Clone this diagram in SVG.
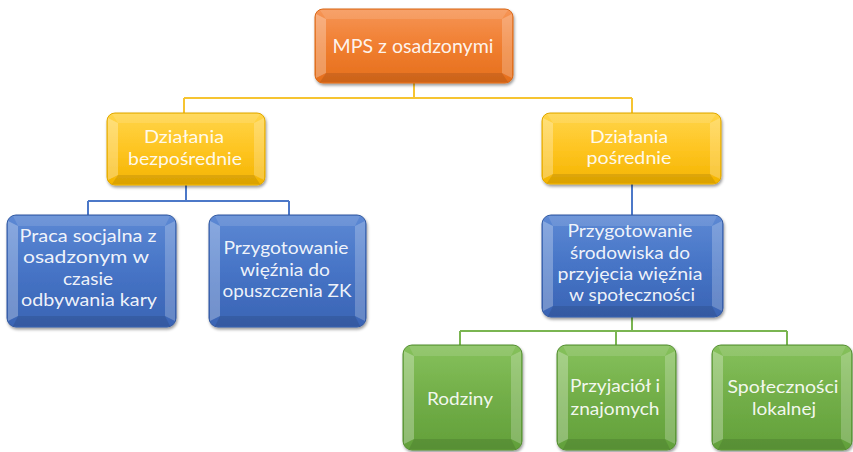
<svg xmlns="http://www.w3.org/2000/svg" width="853" height="452" viewBox="0 0 853 452">
<defs>
  <linearGradient id="gOr" x1="0" y1="0" x2="0" y2="1">
    <stop offset="0" stop-color="#F69556"/>
    <stop offset="0.5" stop-color="#F07E30"/>
    <stop offset="1" stop-color="#E56F1C"/>
  </linearGradient>
  <linearGradient id="gYe" x1="0" y1="0" x2="0" y2="1">
    <stop offset="0" stop-color="#FFD54A"/>
    <stop offset="0.5" stop-color="#FEC522"/>
    <stop offset="1" stop-color="#F4B400"/>
  </linearGradient>
  <linearGradient id="gBl" x1="0" y1="0" x2="0" y2="1">
    <stop offset="0" stop-color="#5D89D4"/>
    <stop offset="0.5" stop-color="#4674C6"/>
    <stop offset="1" stop-color="#3A64B4"/>
  </linearGradient>
  <linearGradient id="gGr" x1="0" y1="0" x2="0" y2="1">
    <stop offset="0" stop-color="#86C15C"/>
    <stop offset="0.5" stop-color="#72AE48"/>
    <stop offset="1" stop-color="#62A03A"/>
  </linearGradient>
  <filter id="sh" x="-10%" y="-10%" width="125%" height="130%">
    <feGaussianBlur in="SourceAlpha" stdDeviation="1.6"/>
    <feOffset dx="1" dy="2" result="o"/>
    <feComponentTransfer><feFuncA type="linear" slope="0.4"/></feComponentTransfer>
    <feMerge><feMergeNode/><feMergeNode in="SourceGraphic"/></feMerge>
  </filter>
</defs>
<style>
  .box{filter:url(#sh);stroke-width:1}
  .or{fill:url(#gOr);stroke:#D96A1A}
  .ye{fill:url(#gYe);stroke:#E0A800}
  .bl{fill:url(#gBl);stroke:#3259A0}
  .gr{fill:url(#gGr);stroke:#558E33}
  .bvL{fill:#ffffff;fill-opacity:0.28}
  .bvR{fill:#ffffff;fill-opacity:0.22}
  .bvT{fill:#ffffff;fill-opacity:0.12}
  .bvB{fill:#000000;fill-opacity:0.10}
  text{font-family:Lato,"Liberation Sans",sans-serif;font-size:17px;fill:#FFFFFF;fill-opacity:0.93;text-anchor:middle}
  .c{fill:none;stroke-width:2}
  .cy{stroke:#F6C431}
  .cb{stroke:#4C78C8}
  .cg{stroke:#7AB551}
</style>

<g id="connectors">
  <path class="c cy" d="M414,83 V98 M184,98 H632 M184,98 V113 M632,98 V113"/>
  <path class="c cb" d="M186,185 V201 M88,201 H289 M88,201 V215 M289,201 V215"/>
  <path class="c cb" d="M632,184 V215"/>
  <path class="c cg" d="M632,317 V331 M460,331 H787 M460,331 V345 M616,331 V345 M787,331 V345"/>
</g>

<g id="root">
  <rect class="box or" x="315" y="9" width="198" height="74" rx="8"/>
  <polygon class="bvL" points="316,14 326,19 326,73 316,78"/>
  <polygon class="bvR" points="512,14 502,19 502,73 512,78"/>
  <polygon class="bvT" points="320,10 508,10 502,19 326,19"/>
  <polygon class="bvB" points="320,82 508,82 502,73 326,73"/>
  <text x="413" y="53" style="font-size:19px" textLength="161" lengthAdjust="spacingAndGlyphs">MPS z osadzonymi</text>
</g>

<g id="dzialania-bezposrednie">
  <rect class="box ye" x="107" y="113" width="158" height="72" rx="8"/>
  <polygon class="bvL" points="108,118 118,123 118,175 108,180"/>
  <polygon class="bvR" points="264,118 254,123 254,175 264,180"/>
  <polygon class="bvT" points="112,114 260,114 254,123 118,123"/>
  <polygon class="bvB" points="112,184 260,184 254,175 118,175"/>
  <text x="184" y="143" textLength="80" lengthAdjust="spacingAndGlyphs">Działania</text>
  <text x="185" y="165" textLength="114" lengthAdjust="spacingAndGlyphs">bezpośrednie</text>
</g>

<g id="dzialania-posrednie">
  <rect class="box ye" x="542" y="113" width="179" height="71" rx="8"/>
  <polygon class="bvL" points="543,118 553,123 553,174 543,179"/>
  <polygon class="bvR" points="720,118 710,123 710,174 720,179"/>
  <polygon class="bvT" points="547,114 716,114 710,123 553,123"/>
  <polygon class="bvB" points="547,183 716,183 710,174 553,174"/>
  <text x="629" y="143" textLength="78" lengthAdjust="spacingAndGlyphs">Działania</text>
  <text x="629" y="164" textLength="85" lengthAdjust="spacingAndGlyphs">pośrednie</text>
</g>

<g id="praca-socjalna">
  <rect class="box bl" x="7" y="215" width="169" height="112" rx="9"/>
  <polygon class="bvL" points="8,221 18,226 18,316 8,321"/>
  <polygon class="bvR" points="175,221 165,226 165,316 175,321"/>
  <polygon class="bvT" points="13,216 170,216 165,226 18,226"/>
  <polygon class="bvB" points="13,326 170,326 165,316 18,316"/>
  <text x="88" y="242" textLength="137" lengthAdjust="spacingAndGlyphs">Praca socjalna z</text>
  <text x="86" y="263" textLength="126" lengthAdjust="spacingAndGlyphs">osadzonym  w</text>
  <text x="88" y="285" textLength="50" lengthAdjust="spacingAndGlyphs">czasie</text>
  <text x="89" y="306" textLength="136" lengthAdjust="spacingAndGlyphs">odbywania kary</text>
</g>

<g id="przygotowanie-wieznia">
  <rect class="box bl" x="209" y="215" width="157" height="112" rx="9"/>
  <polygon class="bvL" points="210,221 220,226 220,316 210,321"/>
  <polygon class="bvR" points="365,221 355,226 355,316 365,321"/>
  <polygon class="bvT" points="215,216 360,216 355,226 220,226"/>
  <polygon class="bvB" points="215,326 360,326 355,316 220,316"/>
  <text x="286" y="254" textLength="125" lengthAdjust="spacingAndGlyphs">Przygotowanie</text>
  <text x="285" y="276" textLength="90" lengthAdjust="spacingAndGlyphs">więźnia do</text>
  <text x="287" y="297" textLength="129" lengthAdjust="spacingAndGlyphs">opuszczenia ZK</text>
</g>

<g id="przygotowanie-srodowiska">
  <rect class="box bl" x="542" y="215" width="181" height="102" rx="9"/>
  <polygon class="bvL" points="543,221 553,226 553,306 543,311"/>
  <polygon class="bvR" points="722,221 712,226 712,306 722,311"/>
  <polygon class="bvT" points="548,216 717,216 712,226 553,226"/>
  <polygon class="bvB" points="548,316 717,316 712,306 553,306"/>
  <text x="630" y="237" textLength="125" lengthAdjust="spacingAndGlyphs">Przygotowanie</text>
  <text x="630" y="259" textLength="120" lengthAdjust="spacingAndGlyphs">środowiska do</text>
  <text x="630" y="280" textLength="145" lengthAdjust="spacingAndGlyphs">przyjęcia więźnia</text>
  <text x="632" y="301" textLength="126" lengthAdjust="spacingAndGlyphs">w społeczności</text>
</g>

<g id="rodziny">
  <rect class="box gr" x="403" y="345" width="119" height="105" rx="9"/>
  <polygon class="bvL" points="404,351 414,356 414,439 404,444"/>
  <polygon class="bvR" points="521,351 511,356 511,439 521,444"/>
  <polygon class="bvT" points="409,346 516,346 511,356 414,356"/>
  <polygon class="bvB" points="409,449 516,449 511,439 414,439"/>
  <text x="460" y="405" textLength="66" lengthAdjust="spacingAndGlyphs">Rodziny</text>
</g>

<g id="przyjaciol">
  <rect class="box gr" x="557" y="345" width="119" height="105" rx="9"/>
  <polygon class="bvL" points="558,351 568,356 568,439 558,444"/>
  <polygon class="bvR" points="675,351 665,356 665,439 675,444"/>
  <polygon class="bvT" points="563,346 670,346 665,356 568,356"/>
  <polygon class="bvB" points="563,449 670,449 665,439 568,439"/>
  <text x="615" y="392" textLength="90" lengthAdjust="spacingAndGlyphs">Przyjaciół i</text>
  <text x="615" y="415" textLength="89" lengthAdjust="spacingAndGlyphs">znajomych</text>
</g>

<g id="spolecznosci">
  <rect class="box gr" x="712" y="345" width="140" height="105" rx="9"/>
  <polygon class="bvL" points="713,351 723,356 723,439 713,444"/>
  <polygon class="bvR" points="851,351 841,356 841,439 851,444"/>
  <polygon class="bvT" points="718,346 846,346 841,356 723,356"/>
  <polygon class="bvB" points="718,449 846,449 841,439 723,439"/>
  <text x="783" y="393" textLength="111" lengthAdjust="spacingAndGlyphs">Społeczności</text>
  <text x="784" y="415" textLength="64" lengthAdjust="spacingAndGlyphs">lokalnej</text>
</g>
</svg>
